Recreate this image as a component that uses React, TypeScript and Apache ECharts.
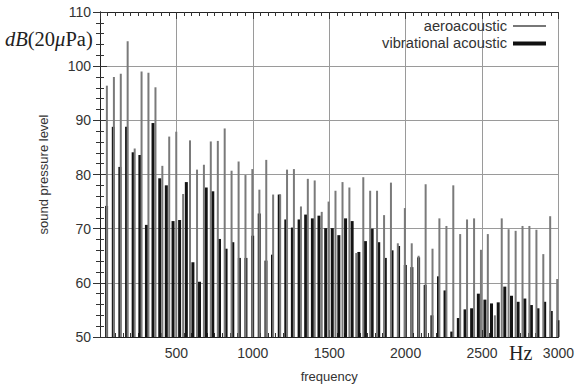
import React, { useEffect, useRef } from "react";
import * as echarts from "echarts";

// Vibrational acoustic (black) harmonic frequencies [Hz] and levels [dB]
const vibFreq = [
  43, 87, 130, 174, 217, 261, 304, 347, 391, 434, 478, 521, 565, 608, 651, 695, 738, 782, 825, 869,
  912, 955, 999, 1042, 1086, 1129, 1173, 1216, 1259, 1303, 1346, 1390, 1433, 1477, 1520, 1563, 1607,
  1650, 1694, 1737, 1781, 1824, 1867, 1911, 1954, 1998, 2041, 2085, 2128, 2172, 2215, 2258, 2302,
  2345, 2389, 2432, 2476, 2519, 2562, 2606, 2649, 2693, 2736, 2780, 2823, 2866, 2910, 2953, 2997,
];
const vibLevel = [
  74.2, 88.8, 81.4, 88.8, 84.1, 83.6, 70.7, 89.5, 79.3, 78.0, 71.4, 71.6, 78.6, 63.8, 60.2, 77.6, 76.9,
  68.1, 66.3, 67.5, 64.6, 64.6, 68.7, 72.8, 64.1, 65.2, 76.3, 71.7, 70.2, 71.7, 72.6, 71.9, 72.4, 70.1,
  70.1, 68.8, 71.9, 71.4, 65.7, 67.7, 70.0, 67.5, 64.6, 66.0, 66.8, 63.3, 62.9, 64.7, 59.6, 54.0, 61.2,
  58.6, 51.0, 53.5, 55.1, 55.3, 58.0, 56.9, 56.2, 56.4, 59.3, 57.6, 56.5, 57.1, 55.9, 55.3, 56.5, 54.8,
  53.1,
];

// Aeroacoustic (gray) harmonic frequencies [Hz] and levels [dB]
const aeroFreq = [
  45, 91, 136, 181, 227, 272, 317, 363, 408, 453, 499, 544, 589, 635, 680, 725, 771, 816, 861, 907,
  952, 997, 1043, 1088, 1133, 1179, 1224, 1269, 1315, 1360, 1405, 1451, 1496, 1541, 1587, 1632, 1677,
  1723, 1768, 1813, 1859, 1904, 1949, 1995, 2040, 2085, 2131, 2176, 2221, 2267, 2312, 2357, 2402,
  2448, 2493, 2538, 2584, 2629, 2674, 2720, 2765, 2810, 2856, 2901, 2946, 2992,
];
const aeroLevel = [
  96.4, 98.0, 98.6, 104.6, 84.8, 99.0, 98.8, 96.1, 81.6, 87.0, 87.9, 76.4, 86.3, 80.9, 81.8, 86.1, 86.2,
  88.5, 80.7, 82.4, 79.9, 81.0, 77.2, 82.7, 76.3, 76.3, 80.9, 81.0, 74.1, 79.2, 78.9, 73.1, 75.0, 77.0,
  78.6, 77.6, 65.5, 79.5, 77.0, 77.0, 72.5, 78.5, 67.3, 73.8, 67.3, 65.0, 78.2, 66.3, 71.9, 70.5, 78.0,
  69.0, 71.7, 71.9, 66.1, 69.0, 54.0, 71.9, 69.9, 69.6, 70.5, 70.5, 69.8, 65.3, 72.3, 60.7,
];

const xTicks = [0, 500, 1000, 1500, 2000, 2500, 3000];
const yTicks = [50, 60, 70, 80, 90, 100, 110];

const SANS = "Liberation Sans, Arial, sans-serif";
const SERIF = "Liberation Serif, Times New Roman, serif";

export default function App() {
  const ref = useRef<HTMLDivElement>(null);

  useEffect(() => {
    document.body.style.margin = "0";
    document.body.style.overflow = "hidden";
    document.documentElement.style.overflow = "hidden";
    if (!ref.current) return;
    const chart = echarts.init(ref.current, null, { renderer: "svg" });
    const axisLine = { show: true, lineStyle: { color: "#222", width: 1 } };
    const minorTickX = { show: true, splitNumber: 10, length: 4, lineStyle: { color: "#333" } };
    const minorTickY = { show: true, splitNumber: 5, length: 4, lineStyle: { color: "#333" } };
    const tick = { show: true, inside: true, length: 7, lineStyle: { color: "#333" } };
    const split = { show: true, lineStyle: { color: "#9a9a9a", width: 1 } };

    chart.setOption({
      animation: false,
      backgroundColor: "#fff",
      grid: { left: 100, right: 16, top: 12, bottom: 48 },
      xAxis: [
        {
          type: "value",
          min: xTicks[0],
          max: xTicks[xTicks.length - 1],
          interval: 500,
          position: "bottom",
          axisLine,
          axisTick: tick,
          minorTick: minorTickX,
          splitLine: split,
          axisLabel: {
            color: "#333",
            fontFamily: SANS,
            fontSize: 14,
            margin: 9,
            formatter: (v: number) => (v === 0 ? "" : String(v)),
          },
          name: "frequency",
          nameLocation: "middle",
          nameGap: 33,
          nameTextStyle: { color: "#333", fontFamily: SANS, fontSize: 13 },
        },
        {
          type: "value",
          min: xTicks[0],
          max: xTicks[xTicks.length - 1],
          interval: 500,
          position: "top",
          axisLine,
          axisTick: tick,
          minorTick: minorTickX,
          splitLine: { show: false },
          axisLabel: { show: false },
        },
      ],
      yAxis: [
        {
          type: "value",
          min: yTicks[0],
          max: yTicks[yTicks.length - 1],
          interval: 10,
          position: "left",
          axisLine,
          axisTick: tick,
          minorTick: minorTickY,
          splitLine: split,
          axisLabel: { color: "#333", fontFamily: SANS, fontSize: 14, margin: 9 },
          name: "sound pressure level",
          nameLocation: "middle",
          nameRotate: 90,
          nameGap: 50,
          nameTextStyle: { color: "#333", fontFamily: SANS, fontSize: 13 },
        },
        {
          type: "value",
          min: yTicks[0],
          max: yTicks[yTicks.length - 1],
          interval: 10,
          position: "right",
          axisLine,
          axisTick: tick,
          minorTick: minorTickY,
          splitLine: { show: false },
          axisLabel: { show: false },
        },
      ],
      series: [
        {
          name: "vibrational acoustic",
          type: "bar",
          xAxisIndex: 0,
          yAxisIndex: 0,
          barWidth: 3,
          clip: true,
          itemStyle: { color: "#141414" },
          data: vibFreq.map((f, i) => [f, vibLevel[i]]),
          z: 2,
        },
        {
          name: "aeroacoustic",
          type: "bar",
          xAxisIndex: 1,
          yAxisIndex: 0,
          barWidth: 2,
          clip: true,
          itemStyle: { color: "#7a7a7a" },
          data: aeroFreq.map((f, i) => [f, aeroLevel[i]]),
          z: 3,
        },
      ],
      graphic: [
        {
          type: "text",
          left: 5,
          top: 28,
          style: {
            text: "{i|dB}{r|(20}{i|μ}{r|Pa)}",
            rich: {
              i: { fontFamily: SERIF, fontStyle: "italic", fontSize: 20.5, fill: "#222" },
              r: { fontFamily: SERIF, fontSize: 20.5, fill: "#222" },
            },
          },
        },
        {
          type: "text",
          left: 509,
          top: 343,
          style: { text: "Hz", fontFamily: SERIF, fontSize: 20, fill: "#222" },
        },
        {
          type: "text",
          x: 507,
          y: 26,
          style: {
            text: "aeroacoustic",
            fontFamily: SANS,
            fontSize: 14.7,
            fill: "#333",
            align: "right",
            verticalAlign: "middle",
          },
          z: 10,
        },
        {
          type: "line",
          shape: { x1: 513, y1: 26, x2: 546, y2: 26 },
          style: { stroke: "#777", lineWidth: 2 },
          z: 10,
        },
        {
          type: "text",
          x: 507,
          y: 43,
          style: {
            text: "vibrational acoustic",
            fontFamily: SANS,
            fontSize: 14.7,
            fill: "#333",
            align: "right",
            verticalAlign: "middle",
          },
          z: 10,
        },
        {
          type: "line",
          shape: { x1: 513, y1: 43.5, x2: 546, y2: 43.5 },
          style: { stroke: "#111", lineWidth: 4 },
          z: 10,
        },
      ],
    });
    return () => chart.dispose();
  }, []);

  return (
    <div
      ref={ref}
      style={{ position: "fixed", left: 0, top: 0, width: 577, height: 388 }}
    />
  );
}
